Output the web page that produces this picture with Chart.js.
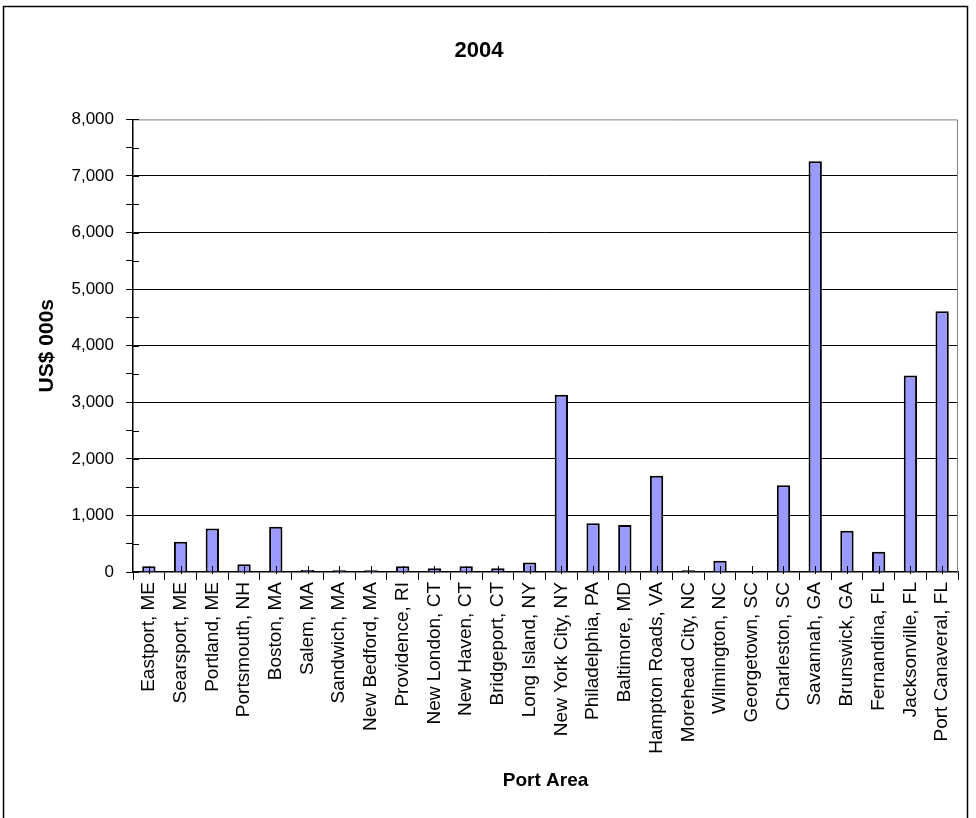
<!DOCTYPE html>
<html>
<head>
<meta charset="utf-8">
<script src="https://cdn.jsdelivr.net/npm/chart.js@4/dist/chart.umd.min.js"></script>
<style>
html,body{margin:0;padding:0;background:#fff;}
#wrap{position:relative;width:976px;height:818px;}
</style>
</head>
<body>
<div id="wrap"><canvas id="c" width="976" height="818"></canvas></div>
<script>
const chartTitle = "2004";
const xAxisTitle = "Port Area";
const yAxisTitle = "US$ 000s";
const ports = ["Eastport, ME","Searsport, ME","Portland, ME","Portsmouth, NH","Boston, MA","Salem, MA","Sandwich, MA","New Bedford, MA","Providence, RI","New London, CT","New Haven, CT","Bridgeport, CT","Long Island, NY","New York City, NY","Philadelphia, PA","Baltimore, MD","Hampton Roads, VA","Morehead City, NC","Wilmington, NC","Georgetown, SC","Charleston, SC","Savannah, GA","Brunswick, GA","Fernandina, FL","Jacksonville, FL","Port Canaveral, FL"];
const values = [100,535,770,135,800,35,30,30,100,66,100,66,170,3135,860,830,1700,30,200,0,1535,7260,730,360,3475,4610];
const yMin = 0, yMax = 8000, yMajorStep = 1000, yMinorStep = 500;

const FONT = "'Liberation Sans Narrow','Arial Narrow','Liberation Sans',Arial,sans-serif";

const decor = {
  id:'decor',
  beforeDraw(chart){
    const ctx = chart.ctx;
    ctx.save();
    ctx.strokeStyle = '#000';
    ctx.lineWidth = 1.5;
    ctx.beginPath();
    ctx.moveTo(3.5, 820); ctx.lineTo(3.5, 6.5); ctx.lineTo(967.5, 6.5); ctx.lineTo(967.5, 820);
    ctx.stroke();
    ctx.restore();
  },
  afterDatasetsDraw(chart){
    const ctx = chart.ctx, a = chart.chartArea;
    const x = chart.scales.x, y = chart.scales.y;
    ctx.save();
    ctx.strokeStyle = '#808080';
    ctx.lineWidth = 1;
    ctx.beginPath();
    ctx.moveTo(a.left, a.top + 0.5); ctx.lineTo(a.right - 0.5, a.top + 0.5); ctx.lineTo(a.right - 0.5, a.bottom);
    ctx.stroke();
    ctx.strokeStyle = '#000';
    ctx.lineWidth = 1;
    ctx.beginPath();
    for (let v = yMin; v <= yMax; v += yMinorStep) {
      const py = Math.round(y.getPixelForValue(v)) + 0.5;
      ctx.moveTo(a.left, py); ctx.lineTo(a.left + 6, py);
    }
    for (let i = 0; i < ports.length; i++) {
      const px = Math.round(x.getPixelForValue(i)) + 0.5;
      ctx.moveTo(px, a.bottom - 6); ctx.lineTo(px, a.bottom + 2);
    }
    ctx.stroke();
    ctx.restore();
  }
};

new Chart(document.getElementById('c'), {
  type:'bar',
  data:{
    labels: ports,
    datasets:[{
      data: values,
      backgroundColor:'#9999FF',
      borderColor:'#000',
      borderWidth:2,
      barPercentage:0.84,
      categoryPercentage:0.5
    }]
  },
  options:{
    responsive:false,
    animation:false,
    devicePixelRatio:1,
    layout:{padding:{left:0,right:18,top:0,bottom:0}},
    plugins:{
      legend:{display:false},
      tooltip:{enabled:false},
      title:{display:true,text:chartTitle,color:'#000',font:{family:FONT,size:22,weight:'bold'},padding:{top:38,bottom:55}}
    },
    scales:{
      x:{
        offset:true,
        grid:{offset:true,drawOnChartArea:false,drawTicks:true,tickLength:8,tickColor:'#000',lineWidth:1},
        border:{color:'#000',width:1.5},
        ticks:{color:'#000',font:{family:FONT,size:19},maxRotation:90,minRotation:90,autoSkip:false,padding:2},
        title:{display:true,text:xAxisTitle,color:'#000',font:{family:FONT,size:19,weight:'bold'},padding:{top:0,bottom:26}},
        afterFit(s){ s.height = 246; }
      },
      y:{
        min:yMin,max:yMax,
        grid:{
          color:(c)=> (c.tick && c.tick.value % yMajorStep === 0 && c.tick.value !== yMin && c.tick.value !== yMax) ? '#000' : 'rgba(0,0,0,0)',
          tickColor:'#000',tickLength:7,lineWidth:1
        },
        border:{color:'#000',width:1.5},
        ticks:{stepSize:yMinorStep,color:'#000',font:{family:FONT,size:17},padding:12,
          callback:(v)=> v % yMajorStep === 0 ? v.toLocaleString('en-US') : ''},
        title:{display:true,text:yAxisTitle,color:'#000',font:{family:FONT,size:21,weight:'bold'},padding:{top:35,bottom:0}},
        afterFit(s){ s.width = 133; }
      }
    }
  },
  plugins:[decor]
});
</script>
</body>
</html>
